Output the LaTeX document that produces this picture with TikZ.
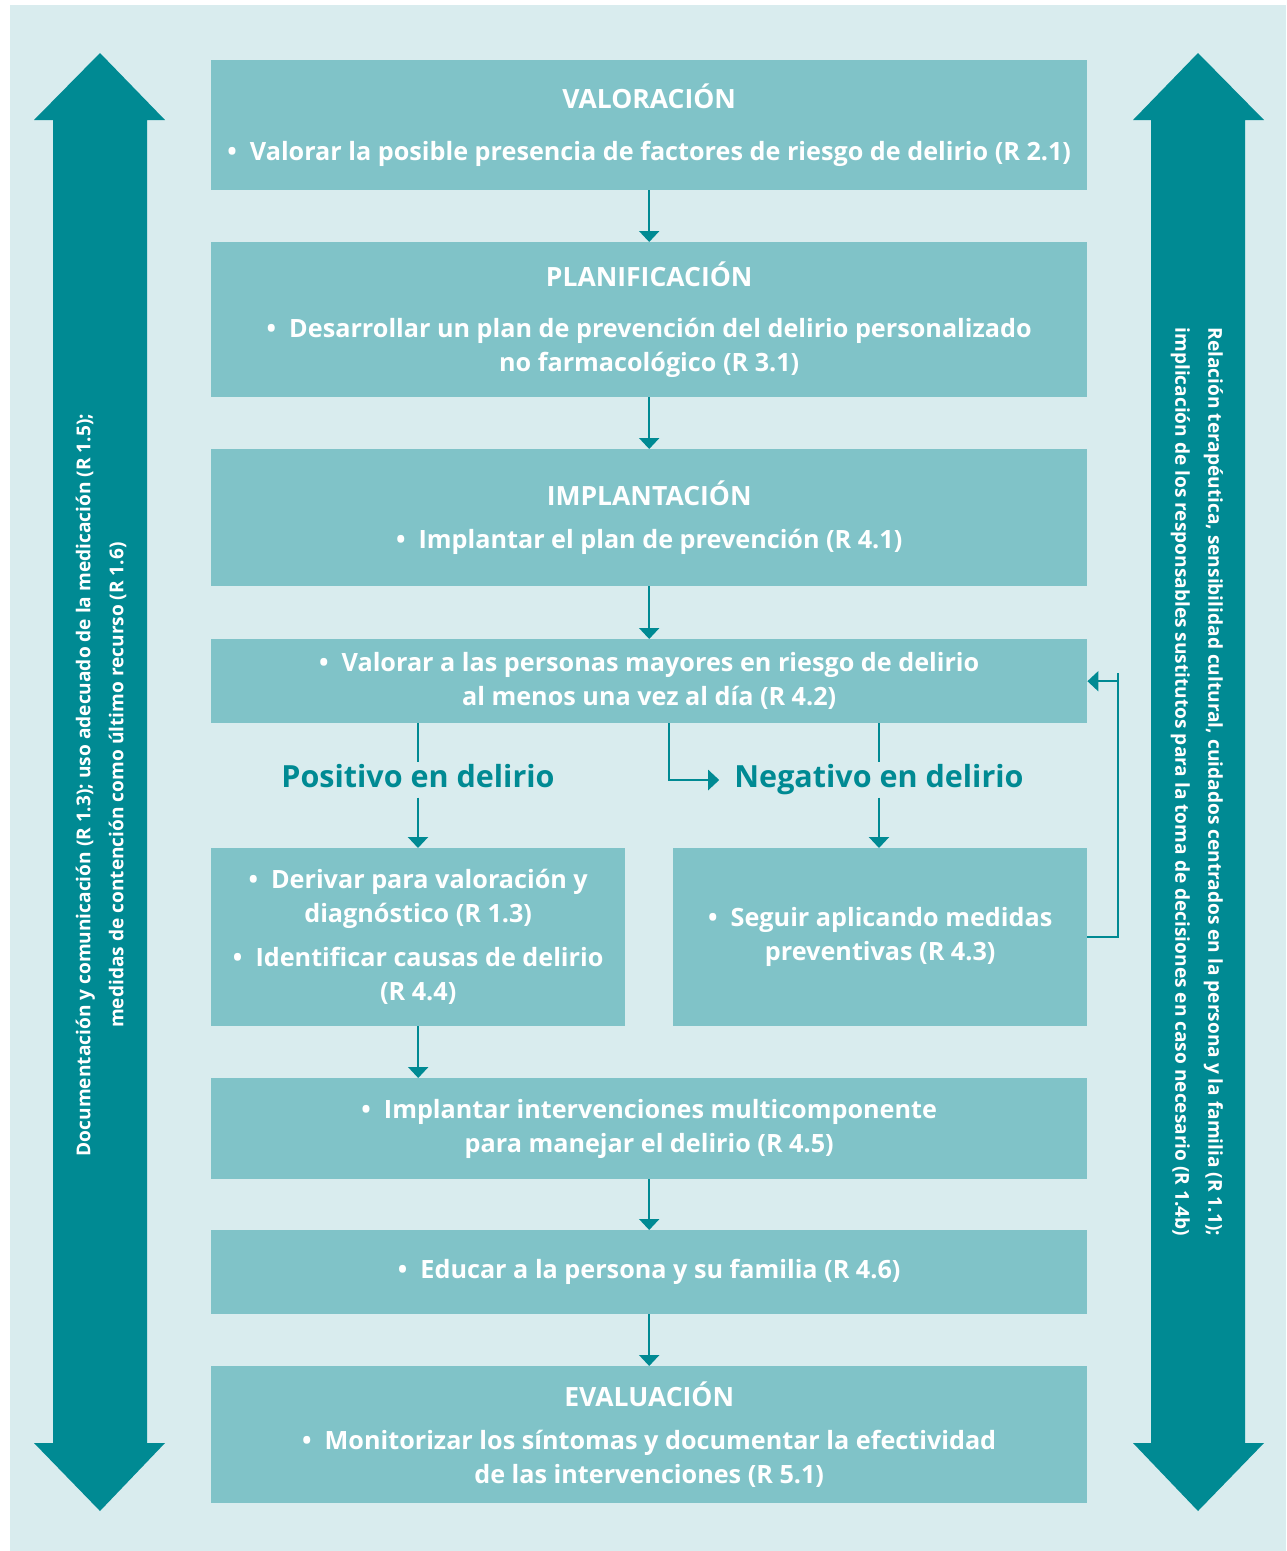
\documentclass[tikz,border=0pt]{standalone}
\usepackage{fontspec}
\setmainfont{Open Sans}
\usetikzlibrary{arrows.meta}
\definecolor{bgc}{HTML}{D9ECEE}
\definecolor{boxc}{HTML}{80C3C8}
\definecolor{dark}{HTML}{008A93}
\newcommand{\hd}[1]{{\fontsize{26.5}{34}\selectfont #1}}
\begin{document}
\begin{tikzpicture}[x=1pt,y=-1pt,
  box/.style={fill=boxc, draw=none, inner sep=0pt, text=white, anchor=north west,
    font=\bfseries\fontsize{25.2}{34}\selectfont, align=center},
  conn/.style={draw=dark, line width=2.2pt, -{Triangle[width=20pt,length=11pt]}},
  plain/.style={draw=dark, line width=2.2pt},
  lbl/.style={text=dark, font=\bfseries\fontsize{30.5}{34}\selectfont, inner xsep=4pt, inner ysep=4pt, text height=21pt, text depth=6pt},
  side/.style={text=white, font=\bfseries\fontsize{19.1}{33}\selectfont, align=center}]
\useasboundingbox (0,0) rectangle (1286,1551);
\fill[bgc] (10,5) rectangle (1286,1551);
% side arrows
\fill[dark] (53,1443) -- (53,120) -- (34,120) -- (100,53) -- (165,120) -- (147,120) -- (147,1443) -- (165,1443) -- (100,1511) -- (34,1443) -- cycle;
\fill[dark] (1151,1443) -- (1151,120) -- (1133,120) -- (1198,53) -- (1264,120) -- (1245,120) -- (1245,1443) -- (1264,1443) -- (1198,1511) -- (1133,1443) -- cycle;
\node[side, rotate=90] (sl) at (101,785) {Documentación y comunicación (R 1.3); uso adecuado de la medicación (R 1.5);\\medidas de contención como último recurso (R 1.6)};
\node[side, rotate=-90] (sr) at (1197,782) {Relación terapéutica, sensibilidad cultural, cuidados centrados en la persona y la familia (R 1.1);\\implicación de los responsables sustitutos para la toma de decisiones en caso necesario (R 1.4b)};
% boxes
\node[box, minimum width=876pt, minimum height=130pt] (b1) at (211,60)
  {\hd{VALORACIÓN}\\[18pt]\textbullet\ \ Valorar la posible presencia de factores de riesgo de delirio (R 2.1)};
\node[box, minimum width=876pt, minimum height=155pt] (b2) at (211,242)
  {\hd{PLANIFICACIÓN}\\[17pt]\textbullet\ \ Desarrollar un plan de prevención del delirio personalizado\\no farmacológico (R 3.1)};
\node[box, minimum width=876pt, minimum height=137pt] (b3) at (211,449)
  {\hd{IMPLANTACIÓN}\\[9pt]\textbullet\ \ Implantar el plan de prevención (R 4.1)};
\node[box, minimum width=876pt, minimum height=84pt] (b4) at (211,639)
  {\textbullet\ \ Valorar a las personas mayores en riesgo de delirio\\al menos una vez al día (R 4.2)};
\node[box, minimum width=414pt, minimum height=178pt] (b5l) at (211,848)
  {\textbullet\ \ Derivar para valoración y\\diagnóstico (R 1.3)\\[10pt]\textbullet\ \ Identificar causas de delirio\\(R 4.4)};
\node[box, minimum width=414pt, minimum height=178pt] (b5r) at (673,848)
  {\textbullet\ \ Seguir aplicando medidas\\preventivas (R 4.3)};
\node[box, minimum width=876pt, minimum height=101pt] (b6) at (211,1078)
  {\textbullet\ \ Implantar intervenciones multicomponente\\para manejar el delirio (R 4.5)};
\node[box, minimum width=876pt, minimum height=84pt] (b7) at (211,1230)
  {\textbullet\ \ Educar a la persona y su familia (R 4.6)};
\node[box, minimum width=876pt, minimum height=137pt] (b8) at (211,1366)
  {\hd{EVALUACIÓN}\\[9pt]\textbullet\ \ Monitorizar los síntomas y documentar la efectividad\\de las intervenciones (R 5.1)};
% labels
\node[lbl] (pos) at (418,780) {Positivo en delirio};
\node[lbl] (neg) at (879,780) {Negativo en delirio};
\coordinate (midx) at (669,0);
\coordinate (fbx) at (1118,0);
% connectors
\draw[conn] (b1.south) -- (b2.north);
\draw[conn] (b2.south) -- (b3.north);
\draw[conn] (b3.south) -- (b4.north);
\draw[plain] (b4.south -| pos.north) -- (pos.north);
\draw[conn] (pos.south) -- (pos.south |- b5l.north);
\draw[plain] (b4.south -| neg.north) -- (neg.north);
\draw[conn] (neg.south) -- (neg.south |- b5r.north);
\draw[conn] (b4.south -| midx) |- ([xshift=-11pt]neg.west);
\draw[plain] (b5r.east) -- (b5r.east -| fbx) -- ([yshift=8pt]b4.east -| fbx);
\draw[conn] (b4.east -| fbx) -- (b4.east);
\draw[conn] (b5l.south) -- (b5l.south |- b6.north);
\draw[conn] (b6.south) -- (b7.north);
\draw[conn] (b7.south) -- (b8.north);
\end{tikzpicture}
\end{document}
